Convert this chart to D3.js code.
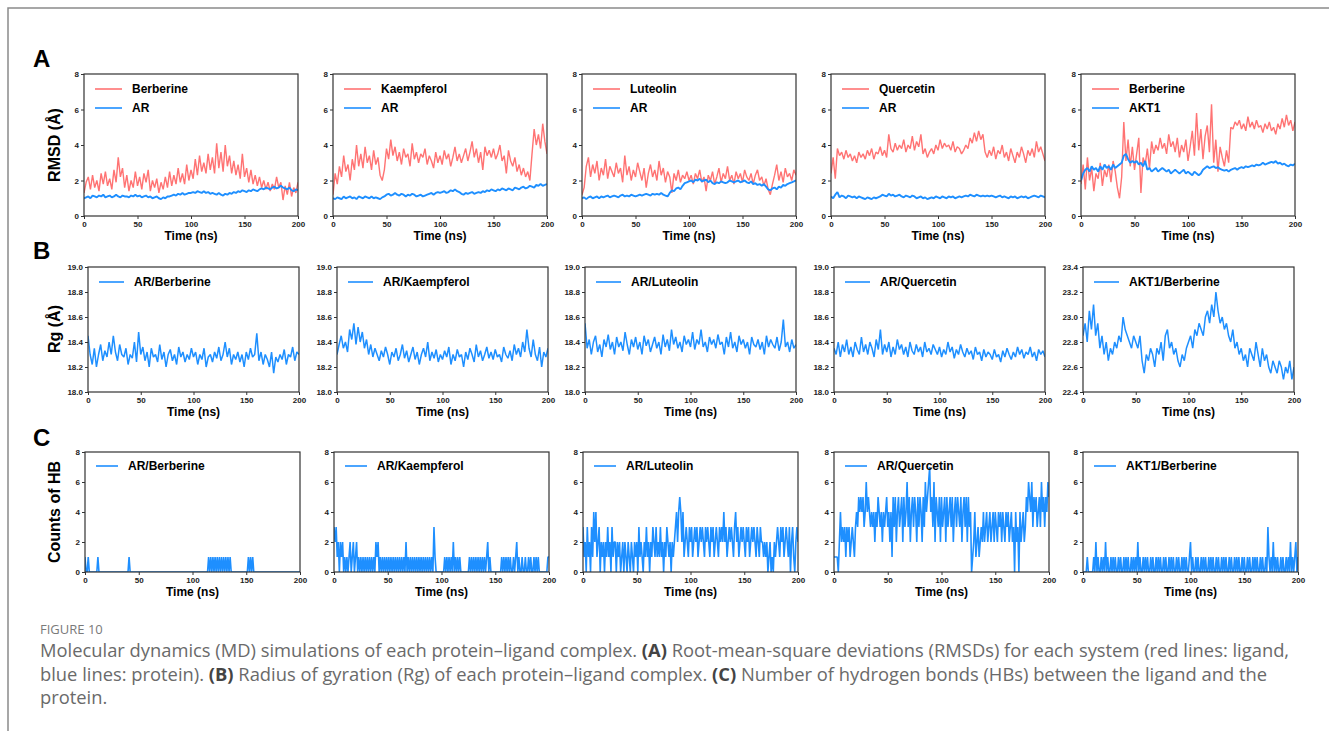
<!DOCTYPE html>
<html>
<head>
<meta charset="utf-8">
<script src="https://cdn.jsdelivr.net/npm/d3@7"></script>
<style>
  body { margin: 0; background: #fff; }
  svg { display: block; }
  .tick text { font-family: "Liberation Sans", Arial, sans-serif; font-weight: bold; font-size: 8px; fill: #222; }
  .tick line { stroke: #333; }
</style>
</head>
<body>
<svg id="chart" width="1329" height="731"></svg>
<script>
// ---- data, time axis 0-200 ns ----
var ligands = ['Berberine', 'Kaempferol', 'Luteolin', 'Quercetin', 'Berberine'];
var proteins = ['AR', 'AR', 'AR', 'AR', 'AKT1'];
var complexes = ['AR/Berberine', 'AR/Kaempferol', 'AR/Luteolin', 'AR/Quercetin', 'AKT1/Berberine'];
var timeTicks = [0, 50, 100, 150, 200];
var rmsdTicks = [0, 2, 4, 6, 8];
var rgTicks = [18.0, 18.2, 18.4, 18.6, 18.8, 19.0];
var rgTicksAkt1 = [22.4, 22.6, 22.8, 23.0, 23.2, 23.4];
var hbTicks = [0, 2, 4, 6, 8];

// RMSD ligand (red), every 2 ns
var rmsdLig1 = [1.3,1.9,2.2,1.5,2.3,1.6,2.0,1.4,2.4,1.8,2.5,1.7,2.1,1.5,2.6,1.9,3.3,2.2,2.7,1.6,2.3,1.4,2.0,1.6,2.5,
  1.7,2.2,1.5,2.4,1.9,2.6,1.4,2.0,1.6,2.1,1.3,1.9,1.5,2.2,1.6,2.5,1.7,2.3,1.8,2.7,1.9,2.4,1.8,2.9,2.0,
  2.6,2.1,3.2,2.3,3.4,2.5,3.0,2.4,3.5,2.6,3.3,2.4,4.1,2.7,3.6,2.5,4.0,2.8,3.4,2.4,3.1,2.3,2.9,2.1,3.5,
  2.2,2.7,1.9,2.6,1.8,2.3,1.7,2.2,1.6,2.0,1.5,1.9,1.4,1.8,1.5,2.2,1.6,1.9,0.9,1.7,1.2,1.9,1.1,1.6,1.3,1.9];
var rmsdLig2 = [1.2,2.4,1.8,2.8,2.2,3.4,2.5,2.9,2.0,3.2,2.6,4.0,2.8,3.5,2.7,3.9,3.0,3.4,2.6,3.7,2.9,3.3,2.3,2.0,2.6,
  3.8,3.2,4.3,3.4,3.9,3.1,3.6,2.9,3.8,3.3,3.5,2.8,4.1,3.2,3.6,3.0,3.5,3.3,3.8,2.9,3.4,3.1,2.7,3.6,3.0,
  3.4,2.9,3.7,3.2,3.5,2.8,3.3,3.9,3.1,3.5,3.0,3.4,3.8,3.1,3.6,4.2,3.3,3.8,3.0,3.6,2.6,3.9,3.4,3.7,3.3,
  3.8,3.2,3.5,4.0,3.1,3.4,2.4,3.7,3.1,2.8,3.3,2.5,2.9,2.3,2.7,2.2,2.5,2.0,3.5,4.9,4.0,4.6,3.8,5.2,4.2,3.5];
var rmsdLig3 = [1.2,1.6,2.8,3.3,2.2,2.9,2.4,3.1,2.0,2.7,2.3,3.2,2.1,2.8,2.5,2.2,3.0,2.4,2.7,1.9,3.4,2.3,2.8,2.0,2.6,
  2.2,3.0,2.5,2.0,2.7,1.6,2.4,2.9,2.2,2.6,2.0,3.1,2.3,2.7,1.9,2.5,2.2,1.3,2.4,2.0,2.6,1.9,2.3,2.1,2.5,
  2.0,2.3,1.8,2.4,2.1,2.6,1.9,2.2,1.4,2.3,2.0,2.5,1.8,2.2,2.7,1.9,2.4,2.1,2.8,2.0,2.3,1.8,2.5,2.1,2.4,
  1.9,2.6,2.2,2.0,2.4,1.8,2.3,2.6,2.0,2.2,1.7,2.1,1.5,1.2,1.8,2.3,2.9,2.0,2.5,1.9,2.7,2.2,2.4,2.0,2.6,2.3];
var rmsdLig4 = [2.4,3.3,2.1,3.8,3.4,3.6,3.2,3.7,3.3,3.5,3.1,3.4,3.0,3.6,3.3,3.5,3.2,3.7,3.4,3.8,3.2,3.6,3.5,3.9,3.4,
  3.7,3.3,4.6,3.8,3.6,4.1,3.7,4.0,3.8,4.3,3.6,4.0,3.8,4.5,3.7,4.2,3.9,4.6,3.5,3.8,3.3,3.6,3.8,3.5,4.0,
  3.7,4.3,3.8,4.1,3.9,4.0,3.7,4.2,3.6,3.9,3.8,3.5,3.7,4.0,3.8,4.4,4.1,4.7,4.2,4.8,4.3,4.6,3.6,3.3,3.7,
  3.4,3.9,3.2,3.7,3.5,4.0,3.3,3.6,3.1,3.8,3.4,3.0,3.6,3.3,3.9,3.5,3.0,3.7,3.4,3.8,3.3,4.2,3.6,3.9,3.5,3.1];
var rmsdLig5 = [1.8,2.9,1.5,3.3,2.0,2.7,1.4,2.4,2.1,3.0,1.7,2.6,2.2,2.9,1.9,3.1,2.5,1.6,1.0,2.2,5.3,3.1,4.3,2.8,3.9,
  2.6,3.5,4.4,1.3,3.3,2.9,3.8,2.7,4.2,3.5,4.0,3.7,4.4,3.8,4.1,3.5,4.6,3.9,4.2,3.6,4.4,3.3,4.0,3.6,4.3,
  3.1,3.9,4.8,3.4,5.8,3.7,4.9,3.2,4.5,5.1,3.6,6.3,3.0,4.3,2.5,3.9,3.3,2.8,3.7,3.0,5.0,4.9,5.3,5.1,5.4,
  4.9,5.2,4.8,5.6,5.0,5.3,4.9,5.4,5.0,5.1,4.7,5.2,4.9,5.3,4.8,5.0,4.6,5.2,4.9,5.5,5.0,5.7,5.1,5.4,4.8,5.3];

// RMSD protein (blue), every 2 ns
var rmsdProt1 = [1.0,1.05,1.1,1.0,1.15,1.1,1.05,1.15,1.1,1.2,1.05,1.1,1.15,1.05,1.1,1.2,1.1,1.05,1.15,1.1,1.1,1.05,1.15,1.1,1.2,
  1.1,1.15,1.05,1.1,1.15,1.05,1.1,1.0,1.05,1.1,1.0,0.95,1.05,1.0,1.1,1.1,1.15,1.2,1.15,1.25,1.2,1.3,1.2,1.25,1.3,
  1.3,1.35,1.3,1.4,1.35,1.3,1.4,1.3,1.35,1.25,1.3,1.25,1.2,1.3,1.2,1.15,1.25,1.2,1.3,1.25,1.35,1.3,1.4,1.35,1.45,
  1.4,1.35,1.45,1.4,1.5,1.45,1.4,1.5,1.55,1.5,1.6,1.55,1.5,1.6,1.65,1.55,1.6,1.7,1.6,1.55,1.5,1.6,1.45,1.4,1.5,1.45];
var rmsdProt2 = [1.0,0.95,1.05,1.0,0.95,1.1,1.0,1.05,1.1,1.0,1.05,0.95,1.1,1.05,1.0,1.1,1.05,1.0,1.1,1.0,1.05,1.0,0.95,1.05,1.1,
  1.2,1.25,1.15,1.2,1.3,1.2,1.15,1.25,1.2,1.1,1.2,1.15,1.25,1.2,1.1,1.15,1.2,1.1,1.15,1.2,1.25,1.3,1.2,1.3,1.35,
  1.3,1.35,1.4,1.3,1.35,1.45,1.4,1.5,1.4,1.35,1.25,1.2,1.3,1.25,1.3,1.35,1.25,1.3,1.35,1.3,1.4,1.35,1.45,1.4,1.5,
  1.45,1.4,1.5,1.45,1.55,1.5,1.45,1.55,1.5,1.45,1.6,1.55,1.5,1.6,1.65,1.55,1.6,1.7,1.65,1.6,1.75,1.7,1.8,1.7,1.75,1.8];
var rmsdProt3 = [1.0,1.05,0.95,1.05,1.1,1.0,1.05,1.1,1.0,1.1,1.05,1.1,1.15,1.05,1.1,1.15,1.1,1.05,1.15,1.2,1.1,1.15,1.1,1.2,1.15,
  1.1,1.15,1.2,1.15,1.2,1.25,1.2,1.15,1.25,1.2,1.25,1.2,1.3,1.2,1.15,1.1,1.3,1.45,1.4,1.55,1.6,1.5,1.7,1.85,1.9,
  1.95,2.0,1.9,2.05,2.0,2.1,1.95,2.0,2.05,1.9,2.0,1.85,1.8,1.9,1.85,1.95,1.9,1.85,1.9,2.0,1.95,1.9,1.95,2.0,1.9,
  1.95,2.0,1.9,1.85,1.95,1.8,1.85,1.75,1.8,1.7,1.8,1.65,1.5,1.45,1.55,1.6,1.5,1.65,1.6,1.75,1.7,1.8,1.85,1.9,1.95,2.0];
var rmsdProt4 = [1.1,1.0,1.2,1.35,1.05,1.15,1.1,1.0,1.15,1.1,1.05,1.1,1.0,1.1,1.05,1.0,0.95,1.05,1.0,0.95,1.05,1.0,1.05,1.1,1.2,
  1.15,1.1,1.25,1.15,1.2,1.1,1.15,1.2,1.1,1.05,1.15,1.1,1.05,1.15,1.1,1.0,1.05,1.1,1.0,1.05,0.95,1.0,1.05,1.0,1.1,
  1.05,1.0,1.1,1.05,1.0,1.1,1.05,1.1,1.0,1.05,1.1,1.05,1.1,1.15,1.1,1.2,1.15,1.1,1.2,1.15,1.1,1.15,1.1,1.15,1.1,
  1.15,1.1,1.05,1.1,1.15,1.05,1.1,1.05,1.0,1.1,1.05,1.1,1.0,1.05,1.1,1.05,1.1,1.0,1.05,1.1,1.15,1.1,1.05,1.15,1.1,1.05];
var rmsdProt5 = [2.0,2.4,2.6,2.7,2.5,2.8,2.6,2.7,2.5,2.8,2.6,2.9,2.7,2.8,2.6,2.9,2.7,2.8,2.9,3.0,3.4,3.5,3.2,3.0,3.1,
  3.0,3.1,2.9,3.0,2.8,3.1,2.6,2.7,2.5,2.6,2.7,2.5,2.6,2.7,2.6,2.5,2.6,2.4,2.5,2.6,2.5,2.4,2.5,2.6,2.4,
  2.5,2.4,2.3,2.5,2.4,2.3,2.4,2.6,2.7,2.8,2.7,2.75,2.8,2.7,2.75,2.65,2.6,2.55,2.6,2.5,2.6,2.65,2.7,2.6,2.7,
  2.75,2.7,2.8,2.75,2.8,2.85,2.8,2.9,2.85,2.9,3.0,2.9,2.95,3.0,3.05,3.0,3.1,2.95,3.0,2.9,2.95,2.85,2.8,2.9,2.85,2.95];

// radius of gyration, every 2 ns
var rg1 = [18.45,18.3,18.22,18.35,18.2,18.3,18.38,18.25,18.33,18.28,18.4,18.3,18.45,18.32,18.25,18.38,18.3,18.28,18.35,18.22,18.3,18.27,18.4,18.24,18.48,
  18.3,18.36,18.25,18.32,18.2,18.35,18.28,18.3,18.24,18.38,18.26,18.32,18.2,18.3,18.34,18.25,18.3,18.22,18.36,18.28,18.32,18.24,18.3,18.26,18.35,
  18.28,18.32,18.22,18.3,18.26,18.35,18.2,18.28,18.3,18.24,18.32,18.27,18.36,18.25,18.3,18.4,18.28,18.35,18.22,18.3,18.26,18.32,18.24,18.3,18.2,
  18.32,18.26,18.35,18.28,18.3,18.47,18.25,18.32,18.22,18.3,18.26,18.2,18.32,18.15,18.28,18.24,18.3,18.26,18.34,18.22,18.3,18.28,18.36,18.25,18.32,18.3];
var rg2 = [18.3,18.38,18.45,18.35,18.4,18.32,18.5,18.42,18.55,18.38,18.52,18.4,18.48,18.35,18.42,18.3,18.38,18.28,18.35,18.3,18.25,18.33,18.28,18.36,18.3,
  18.22,18.32,18.28,18.35,18.25,18.3,18.38,18.27,18.33,18.24,18.3,18.36,18.26,18.32,18.22,18.3,18.35,18.28,18.4,18.25,18.32,18.27,18.34,18.24,18.3,
  18.26,18.33,18.28,18.36,18.22,18.3,18.25,18.34,18.28,18.3,18.2,18.32,18.26,18.35,18.3,18.24,18.38,18.28,18.33,18.25,18.3,18.36,18.27,18.32,18.26,
  18.34,18.28,18.3,18.24,18.36,18.3,18.27,18.33,18.25,18.38,18.3,18.35,18.28,18.4,18.32,18.5,18.35,18.28,18.42,18.3,18.25,18.36,18.2,18.32,18.28,18.35];
var rg3 = [18.55,18.35,18.42,18.3,18.4,18.45,18.32,18.38,18.28,18.42,18.36,18.46,18.34,18.4,18.3,18.44,18.36,18.4,18.33,18.48,18.38,18.3,18.42,18.36,18.44,
  18.34,18.4,18.3,18.45,18.37,18.42,18.32,18.38,18.44,18.35,18.4,18.3,18.46,18.36,18.42,18.33,18.5,18.38,18.44,18.35,18.4,18.32,18.45,18.38,18.42,
  18.36,18.48,18.34,18.42,18.38,18.5,18.36,18.4,18.32,18.44,18.38,18.42,18.35,18.46,18.38,18.4,18.3,18.44,18.36,18.48,18.35,18.4,18.32,18.45,18.38,
  18.42,18.35,18.4,18.3,18.44,18.38,18.36,18.42,18.34,18.4,18.3,18.45,18.36,18.42,18.38,18.35,18.44,18.33,18.4,18.58,18.36,18.4,18.32,18.42,18.35,18.38];
var rg4 = [18.35,18.3,18.4,18.28,18.38,18.32,18.42,18.3,18.36,18.28,18.4,18.34,18.3,18.44,18.32,18.38,18.3,18.4,18.35,18.28,18.42,18.34,18.5,18.3,18.38,
  18.32,18.4,18.28,18.36,18.3,18.42,18.34,18.38,18.3,18.36,18.28,18.4,18.33,18.3,18.38,18.32,18.36,18.28,18.4,18.32,18.35,18.3,18.38,18.34,18.3,
  18.36,18.28,18.34,18.3,18.4,18.32,18.36,18.27,18.34,18.3,18.38,18.32,18.28,18.35,18.3,18.33,18.26,18.36,18.3,18.32,18.25,18.34,18.28,18.32,18.3,
  18.26,18.34,18.28,18.3,18.24,18.33,18.28,18.35,18.3,18.26,18.32,18.28,18.36,18.3,18.34,18.27,18.32,18.3,18.36,18.28,18.32,18.25,18.34,18.3,18.33,18.28];
var rg5 = [22.85,22.95,22.8,23.05,22.9,23.1,22.85,22.95,22.75,22.85,22.7,22.8,22.65,22.75,22.7,22.8,22.75,22.85,22.8,23.0,22.9,22.85,22.8,22.75,22.85,
  22.8,22.75,22.85,22.65,22.55,22.7,22.65,22.75,22.7,22.6,22.75,22.7,22.8,22.65,22.85,22.9,22.75,22.8,22.7,22.75,22.65,22.6,22.7,22.65,22.75,
  22.8,22.85,22.75,22.9,22.85,22.95,22.9,22.85,23.0,23.05,22.95,23.1,23.0,23.2,23.05,22.95,23.0,22.9,22.95,22.85,22.8,22.9,22.75,22.8,22.7,
  22.75,22.65,22.7,22.6,22.75,22.7,22.65,22.8,22.7,22.6,22.75,22.65,22.7,22.6,22.55,22.65,22.6,22.55,22.65,22.6,22.5,22.6,22.55,22.65,22.5,22.6];

// hydrogen bond counts, every 1 ns
var hb1 = [1,0,0,1,0,0,0,0,0,0, 0,0,1,0,0,0,0,0,0,0, 0,0,0,0,0,0,0,0,0,0, 0,0,0,0,0,0,0,0,0,0,
  0,1,0,0,0,0,0,0,0,0, 0,0,0,0,0,0,0,0,0,0, 0,0,0,0,0,0,0,0,0,0, 0,0,0,0,0,0,0,0,0,0,
  0,0,0,0,0,0,0,0,0,0, 0,0,0,0,0,0,0,0,0,0, 0,0,0,0,0,0,0,0,0,0, 0,0,0,0,0,1,0,1,0,1,
  0,1,0,1,0,1,0,1,0,1, 0,1,0,1,0,1,0,0,0,0, 0,0,0,0,0,0,0,0,0,0, 0,0,1,0,1,0,1,0,0,0,
  0,0,0,0,0,0,0,0,0,0, 0,0,0,0,0,0,0,0,0,0, 0,0,0,0,0,0,0,0,0,0, 0,0,0,0,0,0,0,0,0,0, 0];
var hb2 = [3,2,3,1,2,0,2,1,2,0, 1,0,1,0,1,2,0,1,2,0, 1,2,0,1,0,1,0,1,0,1, 0,1,0,1,0,1,0,1,0,2,
  1,2,0,1,0,1,0,1,0,1, 0,1,0,1,0,1,0,1,0,1, 0,1,0,1,0,1,0,2,0,1, 0,1,0,1,0,1,0,1,0,1,
  0,1,0,1,0,1,0,1,0,1, 0,1,0,3,1,0,0,0,0,0, 0,0,0,1,0,1,0,1,0,1, 0,2,0,1,0,1,0,1,0,0,
  0,0,0,0,0,0,1,0,1,0, 1,0,1,0,1,0,1,0,1,0, 1,0,1,2,0,1,0,0,0,0, 0,0,0,0,0,0,1,0,1,0,
  1,0,1,0,1,0,0,1,0,1, 2,0,1,0,0,1,0,0,1,0, 0,1,0,1,0,0,1,0,1,0, 1,0,0,0,0,0,0,0,0,1, 1];
var hb3 = [3,1,2,0,3,1,2,0,3,1, 4,2,4,1,2,3,0,2,1,2, 0,2,1,3,1,2,0,3,1,2, 2,0,2,1,2,0,1,2,0,2,
  1,0,2,1,0,2,1,0,2,1, 2,0,3,1,2,1,0,2,1,3, 1,2,0,2,1,3,2,1,3,1, 2,1,3,1,2,0,2,1,3,2,
  1,2,0,2,1,2,3,4,2,4, 5,4,2,4,1,2,3,2,1,3, 2,3,1,2,3,2,3,1,2,3, 2,3,2,1,3,2,3,2,1,3,
  2,3,1,2,3,2,1,3,2,3, 2,4,2,3,1,2,3,2,3,2, 1,3,4,2,3,1,2,3,2,3, 2,1,3,2,3,1,2,3,2,3,
  2,1,3,2,1,3,2,2,1,2, 1,2,0,1,2,0,1,0,2,1, 2,3,2,1,3,2,3,1,2,3, 2,1,3,0,2,3,1,0,2,3, 2];
var hb4 = [1,1,1,1,0,2,4,2,3,2, 3,1,3,2,3,1,2,3,2,1, 3,4,3,5,4,5,4,5,3,4, 6,4,5,4,3,4,3,4,2,4,
  3,5,4,3,4,2,4,3,4,5, 3,4,2,4,1,5,3,5,2,4, 5,3,4,5,2,5,3,4,6,3, 5,2,4,5,3,5,4,2,5,3,
  5,4,2,5,3,6,4,5,6,7, 4,5,3,6,2,5,4,3,5,2, 5,3,4,5,2,5,3,4,5,3, 5,2,4,5,3,5,4,3,5,2,
  4,5,3,5,2,5,3,4,0,1, 2,4,1,2,3,1,2,3,2,4, 2,3,4,2,3,4,2,3,4,2, 4,3,2,4,3,4,2,4,3,2,
  4,3,4,2,3,4,2,3,0,4, 2,3,0,4,2,3,4,2,3,5, 4,6,5,4,6,3,5,4,5,3, 4,5,3,6,4,5,3,5,4,6, 5];
var hb5 = [0,0,0,0,1,0,0,0,0,0, 1,0,2,0,1,0,0,1,0,1, 0,2,0,1,0,0,1,0,1,0, 1,0,0,1,0,1,0,0,1,0,
  1,0,1,0,0,1,0,1,0,1, 0,2,0,1,0,0,1,0,1,0, 1,0,0,1,0,1,0,0,1,0, 1,0,1,0,0,1,0,1,0,0,
  1,0,1,0,1,0,0,1,0,1, 0,0,1,0,1,0,1,0,0,1, 2,0,1,0,0,1,0,1,0,0, 1,0,1,0,1,0,0,1,0,1,
  0,1,0,0,1,0,1,0,0,1, 0,1,0,1,0,0,1,0,1,0, 0,1,0,1,0,1,0,0,1,0, 1,0,0,1,0,1,0,0,1,0,
  1,0,1,0,0,1,0,1,0,0, 1,0,3,1,0,1,0,2,0,1, 0,1,0,0,1,0,1,0,0,1, 0,1,0,2,0,1,0,1,2,0, 1];

var rmsdLig = [rmsdLig1, rmsdLig2, rmsdLig3, rmsdLig4, rmsdLig5];
var rmsdProt = [rmsdProt1, rmsdProt2, rmsdProt3, rmsdProt4, rmsdProt5];
var rgAll = [rg1, rg2, rg3, rg4, rg5];
var hbAll = [hb1, hb2, hb3, hb4, hb5];

var RED = '#ff5a5a';
var BLUE = '#1e8fff';
var FONT = '"Liberation Sans", Arial, Helvetica, sans-serif';

var svg = d3.select('#chart');

// outer figure frame (top + left rule)
svg.append('path')
  .attr('d', 'M8,731V8H1329')
  .attr('fill', 'none')
  .attr('stroke', '#8a8a8a')
  .attr('stroke-width', 1.5);

// panel geometry per row
var rows = [
  { xs: [84, 333, 582, 831, 1081], w: 214, top: 74, h: 142 },
  { xs: [88, 337, 585, 834, 1083], w: 211, top: 267, h: 125 },
  { xs: [85, 334, 583, 834, 1083], w: 215, top: 452, h: 120 }
];

var clipId = 0;
function drawPanel(row, col, yDomain, yTicks, yFmt, series, legendTop, legendLineW) {
  var x0 = row.xs[col], y0 = row.top, w = row.w, h = row.h;
  var x = d3.scaleLinear().domain([0, 200]).range([x0, x0 + w]);
  var y = d3.scaleLinear().domain(yDomain).range([y0 + h, y0]);
  var g = svg.append('g');

  var id = 'clip' + (clipId++);
  g.append('clipPath').attr('id', id)
    .append('rect').attr('x', x0).attr('y', y0).attr('width', w).attr('height', h);

  series.forEach(function (s) {
    var n = s.values.length;
    var line = d3.line()
      .x(function (d, i) { return x(i * 200 / (n - 1)); })
      .y(function (d) { return y(d); });
    g.append('path')
      .datum(s.values)
      .attr('clip-path', 'url(#' + id + ')')
      .attr('fill', 'none')
      .attr('stroke', s.color)
      .attr('stroke-opacity', s.opacity || 1)
      .attr('stroke-width', s.width || 1.3)
      .attr('stroke-linejoin', 'bevel')
      .attr('d', line);
  });

  // axes
  g.append('g')
    .attr('transform', 'translate(0,' + (y0 + h) + ')')
    .call(d3.axisBottom(x).tickValues(timeTicks).tickSize(3).tickPadding(2))
    .call(function (a) { a.select('.domain').remove(); });
  g.append('g')
    .attr('transform', 'translate(' + x0 + ',0)')
    .call(d3.axisLeft(y).tickValues(yTicks).tickFormat(yFmt).tickSize(3).tickPadding(2))
    .call(function (a) { a.select('.domain').remove(); });

  g.append('rect')
    .attr('x', x0).attr('y', y0).attr('width', w).attr('height', h)
    .attr('fill', 'none').attr('stroke', '#333').attr('stroke-width', 1.2);

  g.append('text')
    .attr('x', x0 + w / 2).attr('y', y0 + h + 24)
    .attr('text-anchor', 'middle')
    .style('font-family', FONT).style('font-weight', 'bold').style('font-size', '12px')
    .text('Time (ns)');

  // legend
  series.forEach(function (s, i) {
    var ly = y0 + legendTop + i * 19;
    g.append('line')
      .attr('x1', x0 + 11).attr('x2', x0 + 11 + legendLineW)
      .attr('y1', ly).attr('y2', ly)
      .attr('stroke', s.color).attr('stroke-opacity', s.opacity || 1).attr('stroke-width', 1.6);
    g.append('text')
      .attr('x', x0 + 11 + legendLineW + 10).attr('y', ly + 4)
      .style('font-family', FONT).style('font-weight', 'bold').style('font-size', '12px')
      .text(s.label);
  });
}

var f0 = d3.format('d'), f1 = d3.format('.1f');
for (var c = 0; c < 5; c++) {
  drawPanel(rows[0], c, [0, 8], rmsdTicks, f0, [
    { values: rmsdLig[c], color: RED, opacity: 0.85, width: 1.4, label: ligands[c] },
    { values: rmsdProt[c], color: BLUE, width: 1.9, label: proteins[c] }
  ], 15, 27);
  drawPanel(rows[1], c, c === 4 ? [22.4, 23.4] : [18.0, 19.0], c === 4 ? rgTicksAkt1 : rgTicks, f1, [
    { values: rgAll[c], color: BLUE, width: 1.5, label: complexes[c] }
  ], 15, 25);
  drawPanel(rows[2], c, [0, 8], hbTicks, f0, [
    { values: hbAll[c], color: BLUE, width: 1.6, label: complexes[c] }
  ], 14, 22);
}

// row titles and panel letters
function yTitle(text, cy) {
  svg.append('text')
    .attr('transform', 'translate(60,' + cy + ') rotate(-90)')
    .attr('text-anchor', 'middle')
    .style('font-family', FONT).style('font-weight', 'bold').style('font-size', '16px')
    .text(text);
}
yTitle('RMSD (Å)', 145);
yTitle('Rg (Å)', 329);
yTitle('Counts of HB', 512);

[['A', 67], ['B', 259], ['C', 446]].forEach(function (p) {
  svg.append('text')
    .attr('x', 33).attr('y', p[1])
    .style('font-family', FONT).style('font-weight', 'bold').style('font-size', '24px')
    .text(p[0]);
});

// caption
var capFont = '"Open Sans", Lato, sans-serif';
svg.append('text')
  .attr('x', 40).attr('y', 634)
  .style('font-family', capFont).style('font-size', '13px').attr('fill', '#7a7a7a')
  .text('FIGURE 10');

var capLines = [
  [['Molecular dynamics (MD) simulations of each protein–ligand complex. ', 0], ['(A)', 1], [' Root-mean-square deviations (RMSDs) for each system (red lines: ligand,', 0]],
  [['blue lines: protein). ', 0], ['(B)', 1], [' Radius of gyration (Rg) of each protein–ligand complex. ', 0], ['(C)', 1], [' Number of hydrogen bonds (HBs) between the ligand and the', 0]],
  [['protein.', 0]]
];
var capTexts = capLines.map(function (parts, i) {
  var t = svg.append('text')
    .attr('x', 40).attr('y', 657 + i * 23.5)
    .style('font-family', capFont).style('font-size', '17px').attr('fill', '#6a6a6a');
  parts.forEach(function (p) {
    t.append('tspan')
      .style('font-weight', p[1] ? 'bold' : 'normal')
      .attr('fill', p[1] ? '#444' : '#6a6a6a')
      .text(p[0]);
  });
  return t;
});
// fit the caption so the first line spans the same width as the original
var firstLen = capTexts[0].node().getComputedTextLength();
var capSize = 17 * 1250 / firstLen;
capTexts.forEach(function (t) { t.style('font-size', capSize + 'px'); });
</script>
</body>
</html>
